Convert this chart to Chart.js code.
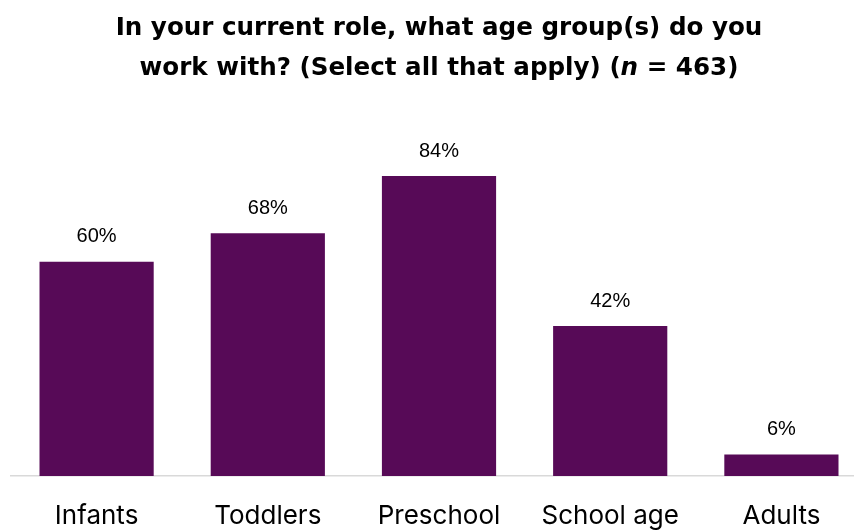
<!DOCTYPE html>
<html>
<head>
<meta charset="utf-8">
<script src="https://cdn.jsdelivr.net/npm/chart.js@4/dist/chart.umd.min.js"></script>
<style>
  html, body { margin: 0; padding: 0; background: #fff; overflow: hidden; }
  #wrap { width: 854px; height: 531px; position: relative; }
</style>
</head>
<body>
<div id="wrap"><canvas id="ageChart"></canvas></div>
<script>
const titleLines = ['In your current role, what age group(s) do you', 'work with? (Select all that apply) (n = 463)'];
const ageGroups = ['Infants', 'Toddlers', 'Preschool', 'School age', 'Adults'];
const percentages = [60, 68, 84, 42, 6];

const barColor = '#570A57';
const titleFamily = '"DejaVu Sans", Inter, Arial, sans-serif';

// title drawn over the plot centre, "n" in italics
const titlePlugin = {
    id: 'twoLineTitle',
    afterDraw(chart) {
        const ctx = chart.ctx;
        const xs = chart.scales.x;
        const cx = (xs.getPixelForValue(-0.5) + xs.getPixelForValue(ageGroups.length - 0.5)) / 2;
        const size = 24.6;
        const bold = 'bold ' + size + 'px ' + titleFamily;
        const boldIt = 'italic bold ' + size + 'px ' + titleFamily;
        ctx.save();
        ctx.fillStyle = '#000';
        ctx.textBaseline = 'middle';
        ctx.textAlign = 'left';
        titleLines.forEach((line, li) => {
            const y = 29 + li * 40;
            const parts = [];
            const idx = line.indexOf('(n =');
            if (idx >= 0) {
                parts.push([line.slice(0, idx + 1), bold]);
                parts.push(['n', boldIt]);
                parts.push([line.slice(idx + 2), bold]);
            } else {
                parts.push([line, bold]);
            }
            let total = 0;
            parts.forEach(p => { ctx.font = p[1]; total += ctx.measureText(p[0]).width; });
            let x = cx - total / 2;
            parts.forEach(p => {
                ctx.font = p[1];
                ctx.fillText(p[0], x, y);
                x += ctx.measureText(p[0]).width;
            });
        });
        ctx.restore();
    }
};

// percentage above each bar
const valueLabels = {
    id: 'valueLabels',
    afterDatasetsDraw(chart) {
        const ctx = chart.ctx;
        const meta = chart.getDatasetMeta(0);
        ctx.save();
        ctx.font = '20px "Liberation Sans", Arial, sans-serif';
        ctx.fillStyle = '#000';
        ctx.textAlign = 'center';
        ctx.textBaseline = 'middle';
        meta.data.forEach((bar, i) => {
            ctx.fillText(percentages[i] + '%', bar.x, bar.y - 25);
        });
        ctx.restore();
    }
};

new Chart(document.getElementById('ageChart'), {
    type: 'bar',
    data: {
        datasets: [{
            data: percentages.map((v, i) => ({ x: i, y: v })),
            backgroundColor: barColor,
            borderWidth: 0,
            categoryPercentage: 1,
            barPercentage: 0.667
        }]
    },
    options: {
        responsive: true,
        maintainAspectRatio: false,
        animation: false,
        layout: { padding: { left: 11, right: 0, top: 119, bottom: 0 } },
        plugins: {
            legend: { display: false },
            tooltip: { enabled: false },
            title: { display: false }
        },
        scales: {
            x: {
                type: 'linear',
                offset: false,
                min: -0.5,
                max: 4.424,
                afterBuildTicks: scale => {
                    scale.ticks = ageGroups.map((g, i) => ({ value: i }));
                },
                afterFit: scale => { scale.height = 55; },
                grid: { display: false, drawTicks: false },
                border: { display: true, color: '#d9d9d9', width: 1.5 },
                ticks: {
                    autoSkip: false,
                    maxRotation: 0,
                    padding: 25,
                    color: '#000',
                    font: { family: 'Inter, "Liberation Sans", Arial, sans-serif', size: 26 },
                    callback: v => ageGroups[v]
                }
            },
            y: {
                display: false,
                min: 0,
                max: 100
            }
        }
    },
    plugins: [titlePlugin, valueLabels]
});
</script>
</body>
</html>
